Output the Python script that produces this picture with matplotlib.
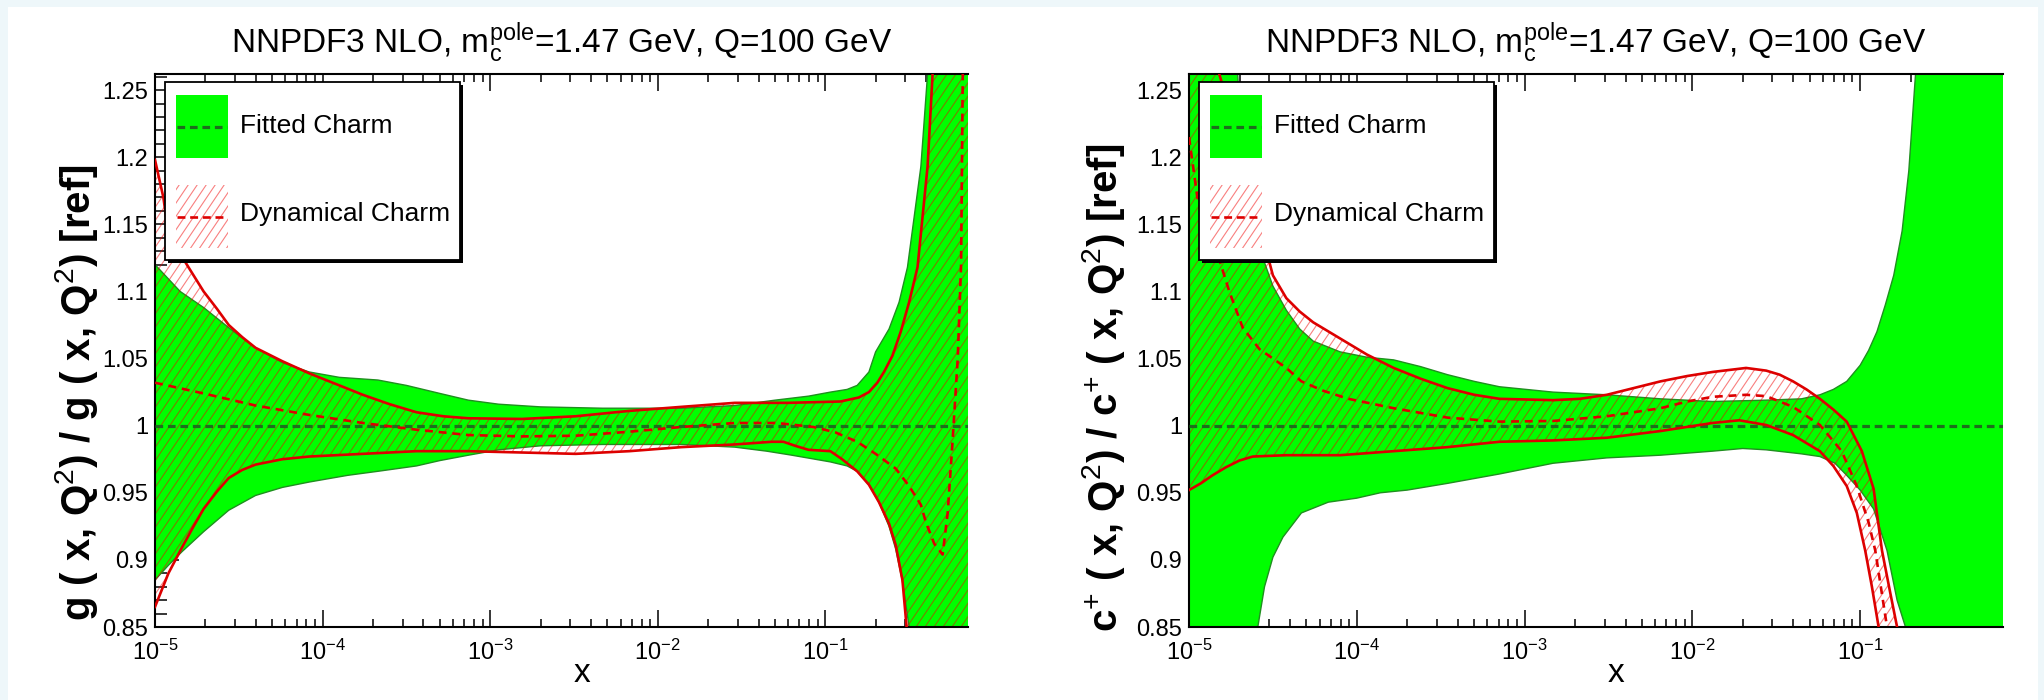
import numpy as np
import matplotlib as mpl
mpl.use("Agg")
import matplotlib.pyplot as plt
from matplotlib.patches import Rectangle
from matplotlib.lines import Line2D
from matplotlib.collections import LineCollection
from matplotlib.ticker import LogLocator, NullFormatter, FixedLocator

W, H = 2044, 700

TITLE = r"NNPDF3 NLO, m$_{\rm c}^{\rm pole}$=1.47 GeV, Q=100 GeV"
YLABEL_G = r"g ( x, Q$^{2}$) / g ( x, Q$^{2}$) [ref]"
YLABEL_C = r"c$^{+}$ ( x, Q$^{2}$) / c$^{+}$ ( x, Q$^{2}$) [ref]"
LEGEND_LABELS = ["Fitted Charm", "Dynamical Charm"]

Y_TICKS = [0.85, 0.9, 0.95, 1.0, 1.05, 1.1, 1.15, 1.2, 1.25]
Y_TICK_LABELS = ["0.85", "0.9", "0.95", "1", "1.05", "1.1", "1.15", "1.2", "1.25"]
X_LIM = (1e-5, 0.71)
Y_LIM = (0.85, 1.262)

# ---- gluon ratio (left panel), x given as log10(x) ----
FIT_CENTRAL_LX = [-5.0, -0.10]
FIT_CENTRAL = [1.0, 1.0]

G_FIT_UP_LX = [-5.00, -4.85, -4.71, -4.55, -4.40, -4.24, -4.08, -3.90, -3.67, -3.50,
               -3.30, -3.13, -2.95, -2.70, -2.33, -1.86, -1.54, -1.30, -1.10, -0.97,
               -0.87, -0.81, -0.74, -0.70, -0.62, -0.56, -0.51, -0.43, -0.39, -0.35, -0.10]
G_FIT_UP = [1.120, 1.100, 1.088, 1.072, 1.058, 1.047, 1.040, 1.036, 1.034, 1.030,
            1.024, 1.019, 1.016, 1.014, 1.013, 1.013, 1.015, 1.019, 1.022, 1.025,
            1.027, 1.030, 1.040, 1.055, 1.072, 1.092, 1.118, 1.193, 1.262, 1.350, 1.350]

G_FIT_LO_LX = [-5.00, -4.92, -4.84, -4.71, -4.56, -4.40, -4.24, -4.08, -3.85, -3.67,
               -3.44, -3.30, -3.13, -2.95, -2.70, -2.33, -1.86, -1.54, -1.35, -1.20,
               -0.97, -0.87, -0.81, -0.74, -0.68, -0.62, -0.58, -0.54, -0.50, -0.48, -0.10]
G_FIT_LO = [0.885, 0.896, 0.906, 0.921, 0.937, 0.948, 0.954, 0.958, 0.963, 0.966,
            0.970, 0.974, 0.978, 0.982, 0.985, 0.986, 0.986, 0.984, 0.981, 0.978,
            0.973, 0.970, 0.966, 0.956, 0.943, 0.925, 0.908, 0.884, 0.850, 0.800, 0.800]

G_DYN_UP_LX = [-5.00, -4.95, -4.92, -4.86, -4.80, -4.71, -4.63, -4.56, -4.48, -4.40,
               -4.24, -4.08, -3.92, -3.76, -3.60, -3.44, -3.28, -3.13, -2.81, -2.49,
               -2.17, -1.86, -1.54, -1.22, -0.91, -0.80, -0.74, -0.69, -0.65, -0.60,
               -0.55, -0.50, -0.45, -0.39, -0.36, -0.34, -0.10]
G_DYN_UP = [1.198, 1.170, 1.143, 1.130, 1.118, 1.100, 1.087, 1.075, 1.066, 1.058,
            1.048, 1.039, 1.031, 1.023, 1.016, 1.010, 1.007, 1.0055, 1.005, 1.007,
            1.011, 1.014, 1.017, 1.017, 1.018, 1.021, 1.025, 1.032, 1.040, 1.052,
            1.070, 1.092, 1.118, 1.193, 1.262, 1.350, 1.350]

G_DYN_LO_LX = [-5.00, -4.92, -4.84, -4.77, -4.71, -4.63, -4.56, -4.48, -4.40, -4.24,
               -4.08, -3.76, -3.44, -3.13, -2.81, -2.49, -2.17, -1.86, -1.54, -1.32,
               -1.25, -1.18, -1.10, -0.97, -0.90, -0.81, -0.74, -0.68, -0.62, -0.58,
               -0.54, -0.515, -0.50, -0.10]
G_DYN_LO = [0.865, 0.890, 0.909, 0.925, 0.938, 0.951, 0.961, 0.967, 0.971, 0.975,
            0.977, 0.979, 0.981, 0.981, 0.980, 0.979, 0.981, 0.984, 0.986, 0.988,
            0.988, 0.985, 0.982, 0.981, 0.975, 0.966, 0.956, 0.943, 0.927, 0.911,
            0.885, 0.850, 0.800, 0.800]

G_DYN_MID_LX = [-5.00, -4.71, -4.40, -4.08, -3.76, -3.44, -3.13, -2.81, -2.49, -2.17,
                -1.86, -1.54, -1.29, -1.07, -0.94, -0.81, -0.70, -0.58, -0.50, -0.43,
                -0.40, -0.35, -0.30, -0.27, -0.24, -0.21, -0.19, -0.18, -0.175]
G_DYN_MID = [1.032, 1.024, 1.015, 1.008, 1.002, 0.997, 0.993, 0.992, 0.9925, 0.9955,
             0.999, 1.002, 1.002, 0.999, 0.995, 0.988, 0.979, 0.968, 0.955, 0.941,
             0.928, 0.912, 0.904, 0.935, 0.990, 1.050, 1.120, 1.262, 1.300]

# ---- charm ratio (right panel) ----
C_FIT_UP_LX = [-5.00, -4.74, -4.71, -4.68, -4.64, -4.60, -4.56, -4.50, -4.42, -4.34,
               -4.26, -4.10, -3.94, -3.78, -3.62, -3.46, -3.30, -3.15, -2.83, -2.51,
               -2.19, -1.88, -1.56, -1.35, -1.24, -1.16, -1.08, -1.00, -0.95, -0.90,
               -0.85, -0.80, -0.75, -0.71, -0.67, -0.64, -0.10]
C_FIT_UP = [1.400, 1.300, 1.262, 1.200, 1.160, 1.138, 1.125, 1.104, 1.086, 1.072,
            1.063, 1.055, 1.051, 1.049, 1.044, 1.038, 1.033, 1.029, 1.025, 1.023,
            1.020, 1.018, 1.019, 1.020, 1.023, 1.027, 1.033, 1.045, 1.056, 1.070,
            1.090, 1.112, 1.145, 1.190, 1.262, 1.350, 1.350]

C_FIT_LO_LX = [-5.00, -4.62, -4.59, -4.55, -4.50, -4.44, -4.33, -4.17, -4.00, -3.86,
               -3.70, -3.46, -3.15, -2.83, -2.51, -2.19, -1.88, -1.70, -1.56, -1.35,
               -1.24, -1.15, -1.08, -1.00, -0.92, -0.84, -0.78, -0.73, -0.70, -0.10]
C_FIT_LO = [0.800, 0.800, 0.850, 0.880, 0.902, 0.917, 0.935, 0.943, 0.946, 0.950,
            0.952, 0.957, 0.964, 0.972, 0.976, 0.978, 0.981, 0.983, 0.982, 0.979,
            0.977, 0.972, 0.963, 0.952, 0.938, 0.907, 0.870, 0.850, 0.800, 0.800]

C_DYN_UP_LX = [-5.00, -4.84, -4.82, -4.73, -4.64, -4.56, -4.50, -4.42, -4.34, -4.26,
               -4.10, -3.94, -3.78, -3.62, -3.46, -3.30, -3.15, -2.83, -2.67, -2.51,
               -2.35, -2.19, -2.03, -1.88, -1.68, -1.56, -1.48, -1.40, -1.32, -1.24,
               -1.16, -1.08, -0.99, -0.92, -0.87, -0.82, -0.78, -0.76, -0.10]
C_DYN_UP = [1.400, 1.300, 1.262, 1.225, 1.193, 1.140, 1.112, 1.095, 1.085, 1.077,
            1.065, 1.053, 1.043, 1.035, 1.028, 1.023, 1.020, 1.019, 1.020, 1.023,
            1.028, 1.033, 1.037, 1.040, 1.043, 1.041, 1.038, 1.033, 1.027, 1.020,
            1.012, 1.003, 0.981, 0.953, 0.907, 0.875, 0.850, 0.800, 0.800]

C_DYN_LO_LX = [-5.00, -4.93, -4.86, -4.78, -4.70, -4.62, -4.42, -4.10, -3.78, -3.46,
               -3.15, -2.83, -2.51, -2.19, -1.88, -1.72, -1.56, -1.40, -1.24, -1.16,
               -1.08, -1.02, -0.97, -0.93, -0.89, -0.87, -0.10]
C_DYN_LO = [0.952, 0.957, 0.963, 0.969, 0.974, 0.977, 0.978, 0.978, 0.981, 0.984,
            0.988, 0.989, 0.991, 0.996, 1.002, 1.004, 1.0005, 0.993, 0.981, 0.970,
            0.955, 0.935, 0.907, 0.880, 0.850, 0.800, 0.800]

C_DYN_MID_LX = [-5.00, -4.95, -4.89, -4.83, -4.76, -4.68, -4.58, -4.42, -4.33, -4.20,
                -4.05, -3.78, -3.46, -3.15, -2.83, -2.51, -2.19, -2.03, -1.88, -1.68,
                -1.56, -1.40, -1.24, -1.11, -1.02, -0.95, -0.91, -0.84, -0.82]
C_DYN_MID = [1.215, 1.170, 1.145, 1.128, 1.100, 1.073, 1.057, 1.043, 1.033, 1.026,
             1.020, 1.013, 1.006, 1.003, 1.0035, 1.007, 1.013, 1.018, 1.0215, 1.023,
             1.022, 1.014, 1.0005, 0.981, 0.955, 0.928, 0.907, 0.850, 0.800]

GREEN = "#00ff00"
GREEN_EDGE = "#1f8f1f"
GREEN_DASH = "#1d6e1d"
RED = "#dd0000"
HATCH_RED = (0.95, 0.0, 0.0, 0.5)
HATCH_STEP = 9.0      # px between hatch lines, measured horizontally
HATCH_ANGLE = 56.0    # degrees


def xs(lx):
    return np.power(10.0, np.asarray(lx, dtype=float))


def hatch_lines(ax, clip_patch):
    # slanted ROOT-like hatch, drawn in axes pixels and clipped to the patch
    aw, ah = ax.bbox.width, ax.bbox.height
    run = ah / np.tan(np.radians(HATCH_ANGLE))
    segs = []
    for c in np.arange(-run, aw + HATCH_STEP, HATCH_STEP):
        segs.append([(c / aw, 0.0), ((c + run) / aw, 1.0)])
    lc = LineCollection(segs, colors=[HATCH_RED], linewidths=0.8,
                        transform=ax.transAxes, zorder=clip_patch.get_zorder())
    ax.add_collection(lc, autolim=False)
    lc.set_clip_path(clip_patch)


def band(ax, up_lx, up, lo_lx, lo, **kw):
    x = np.concatenate([xs(up_lx), xs(lo_lx)[::-1]])
    y = np.concatenate([np.asarray(up), np.asarray(lo)[::-1]])
    return ax.fill(x, y, **kw)[0]


def legend_box(ax):
    aw, ah = ax.bbox.width, ax.bbox.height
    fx = lambda px: px / aw
    fy = lambda py: 1 - py / ah
    ax.add_patch(Rectangle((fx(13), fy(189)), fx(295), 178 / ah, transform=ax.transAxes,
                           facecolor="black", edgecolor="none", zorder=9, clip_on=False))
    ax.add_patch(Rectangle((fx(10), fy(186)), fx(295), 178 / ah, transform=ax.transAxes,
                           facecolor="white", edgecolor="black", lw=1.3, zorder=10, clip_on=False))
    # fitted charm entry
    ax.add_patch(Rectangle((fx(21), fy(84)), fx(52), 63 / ah, transform=ax.transAxes,
                           facecolor=GREEN, edgecolor="none", zorder=11))
    ax.add_line(Line2D([fx(22), fx(72)], [fy(52.5), fy(52.5)], transform=ax.transAxes,
                       color=GREEN_DASH, lw=2.3, ls=(0, (2.4, 1.5)), zorder=12))
    ax.text(fx(85), fy(52), LEGEND_LABELS[0], transform=ax.transAxes, fontsize=19,
            ha="left", va="center", zorder=12)
    # dynamical charm entry
    hp = Rectangle((fx(21), fy(174)), fx(52), 63 / ah, transform=ax.transAxes,
                   facecolor="none", edgecolor="none", lw=0, zorder=11)
    ax.add_patch(hp)
    hatch_lines(ax, hp)
    ax.add_line(Line2D([fx(22), fx(72)], [fy(142.5), fy(142.5)], transform=ax.transAxes,
                       color=RED, lw=1.9, ls=(0, (3.0, 1.8)), zorder=12))
    ax.text(fx(85), fy(140), LEGEND_LABELS[1], transform=ax.transAxes, fontsize=19,
            ha="left", va="center", zorder=12)


def draw_panel(ax, fit_up, fit_lo, dyn_up, dyn_lo, dyn_mid, ylabel, ylabel_pos):
    ax.set_xscale("log")
    ax.set_xlim(*X_LIM)
    ax.set_ylim(*Y_LIM)

    band(ax, *fit_up, *fit_lo, facecolor=GREEN, edgecolor="none", lw=0, zorder=1)
    ax.plot(xs(fit_up[0]), fit_up[1], color=GREEN_EDGE, lw=1.0, zorder=1.5)
    ax.plot(xs(fit_lo[0]), fit_lo[1], color=GREEN_EDGE, lw=1.0, zorder=1.5)
    dyn = band(ax, *dyn_up, *dyn_lo, facecolor="none", edgecolor="none", lw=0, zorder=2)
    hatch_lines(ax, dyn)
    ax.plot(xs(FIT_CENTRAL_LX), FIT_CENTRAL, color=GREEN_DASH, lw=2.3,
            ls=(0, (2.4, 1.5)), zorder=3)
    ax.plot(xs(dyn_up[0]), dyn_up[1], color=RED, lw=1.9, zorder=4)
    ax.plot(xs(dyn_lo[0]), dyn_lo[1], color=RED, lw=1.9, zorder=4)
    ax.plot(xs(dyn_mid[0]), dyn_mid[1], color=RED, lw=1.9, ls=(0, (3.0, 2.2)), zorder=4)

    ax.set_xlim(*X_LIM)
    ax.set_ylim(*Y_LIM)
    ax.set_axisbelow(True)
    ax.xaxis.set_major_locator(LogLocator(base=10, numticks=10))
    ax.xaxis.set_minor_locator(LogLocator(base=10, subs=np.arange(2, 10), numticks=20))
    ax.xaxis.set_minor_formatter(NullFormatter())
    ax.yaxis.set_major_locator(FixedLocator(Y_TICKS))
    ax.set_yticklabels(Y_TICK_LABELS)
    ax.yaxis.set_minor_locator(FixedLocator(np.arange(0.85, 1.2601, 0.01)))
    ax.tick_params(axis="both", which="both", direction="in", top=True, right=False,
                   width=1.1, labelsize=17)
    ax.tick_params(axis="x", which="major", length=12, pad=9)
    ax.tick_params(axis="x", which="minor", length=6)
    ax.tick_params(axis="y", which="major", length=17.5, pad=5)
    ax.tick_params(axis="y", which="minor", length=8.8)
    ax.spines["right"].set_visible(False)
    for s in ("left", "bottom", "top"):
        ax.spines[s].set_linewidth(1.5)

    ax.text(0.5, 1 + 21 / 553, TITLE, transform=ax.transAxes, ha="center",
            va="baseline", fontsize=24)
    ax.text(0.525, -47 / 553, "x", transform=ax.transAxes, ha="center", va="center",
            fontsize=24)
    ax.text(ylabel_pos[0], ylabel_pos[1], ylabel, transform=ax.transAxes, rotation=90,
            ha="center", va="center", fontsize=29, fontweight="bold")
    legend_box(ax)


def main():
    plt.rcParams.update({
        "font.family": ["Liberation Sans", "DejaVu Sans"],
        "mathtext.fontset": "custom",
        "mathtext.rm": "Liberation Sans",
        "mathtext.it": "Liberation Sans:italic",
        "mathtext.bf": "Liberation Sans:bold",
        "axes.unicode_minus": True,
    })

    fig = plt.figure(figsize=(W / 100, H / 100), dpi=100, facecolor="#eef7fa")
    fig.patches.append(Rectangle((8 / W, 0), (2038 - 8) / W, (H - 7) / H,
                                 transform=fig.transFigure, facecolor="white",
                                 edgecolor="none", zorder=-10))

    ax_l = fig.add_axes([155 / W, 1 - 627 / H, 813 / W, 553 / H])
    ax_r = fig.add_axes([1189 / W, 1 - 627 / H, 814 / W, 553 / H])

    draw_panel(ax_l, (G_FIT_UP_LX, G_FIT_UP), (G_FIT_LO_LX, G_FIT_LO),
               (G_DYN_UP_LX, G_DYN_UP), (G_DYN_LO_LX, G_DYN_LO),
               (G_DYN_MID_LX, G_DYN_MID), YLABEL_G, (-0.096, 0.423))
    draw_panel(ax_r, (C_FIT_UP_LX, C_FIT_UP), (C_FIT_LO_LX, C_FIT_LO),
               (C_DYN_UP_LX, C_DYN_UP), (C_DYN_LO_LX, C_DYN_LO),
               (C_DYN_MID_LX, C_DYN_MID), YLABEL_C, (-0.105, 0.432))

    fig.savefig("out.png", dpi=100, facecolor=fig.get_facecolor())


if __name__ == "__main__":
    main()
